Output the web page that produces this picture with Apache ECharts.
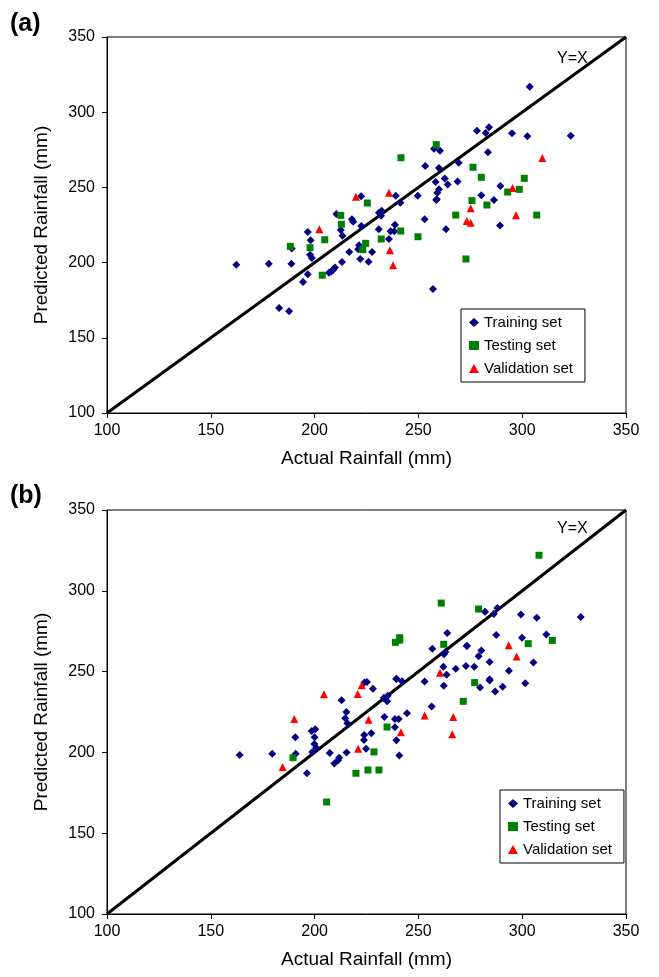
<!DOCTYPE html>
<html>
<head>
<meta charset="utf-8">
<script src="https://cdn.jsdelivr.net/npm/echarts@6/dist/echarts.min.js"></script>
<style>
  html, body { margin: 0; padding: 0; background: #fff; }
  #main { width: 659px; height: 977px; }
</style>
</head>
<body>
<div id="main"></div>
<script>
// axis ticks shared by both panels
var axisTicks = [100, 150, 200, 250, 300, 350];
var seriesNames = ['Training set', 'Testing set', 'Validation set'];

// panel (a) — [actual, predicted]
var trainA = [
  [257.5,275.7],[260.4,274.4],[253.3,264.2],[259.9,262.9],[269.4,266.4],[262.7,256],[258.3,253.6],
  [268.9,254],[264.1,252],[259.9,248.7],[259.1,246.5],[249.7,244.5],[239.1,244.5],[222.4,244.1],
  [258.8,242.1],[258.6,241.6],[303.6,317],[278.2,287.7],[284,290],[282.4,286.2],[295.1,286],
  [302.5,284],[323.4,284.4],[283.5,273.3],[289.5,250.9],[280.3,244.7],[286.4,241.6],
  [210.5,232.3],[212.6,221.7],[213.4,217.9],[196.7,220.3],[198.1,214.8],[189,209.4],[197.8,205.3],
  [198.7,203.1],[216.7,207],[162.3,198.6],[177.9,199.3],[188.8,199.3],[213.2,200.4],[209.8,196.8],
  [209,195.2],[208,194.1],[206.9,193.2],[196.7,192.3],[194.4,187.1],[182.9,169.8],[187.7,167.6],
  [218,228.8],[218.6,227.2],[232.3,234.5],[231,233.2],[232,231.2],[241.3,239.8],[253,228.8],
  [222.5,224.3],[238.7,225.2],[230.9,222.1],[236.6,220.8],[238.4,220.8],[235.8,215.7],[263.3,222.1],
  [221.4,211.5],[221,208.8],[227.7,207],[222,202.4],[226,200.6],[257,182.4],[289.3,224.7]
];
var testA = [
  [258.6,278.4],[241.6,269.7],[276.3,263.4],[280.3,256.7],[301,256],[298.6,248.7],[293,246.9],
  [275.8,241.2],[212.6,231.4],[212.9,225.5],[204.9,215.2],[188.3,210.8],[197.8,209.9],[203.7,191.6],
  [225.4,239.6],[241.5,221],[232.1,215.7],[249.8,217.2],[268,231.6],[224.6,212.8],[223.2,208.6],
  [272.9,202.4],[283,238.3],[307,231.6]
];
var validA = [
  [235.8,246.5],[219.9,243.8],[309.7,269.5],[295.4,249.6],[202.3,222.1],[273.3,227.6],
  [236.3,208.2],[237.8,198.2],[275.2,236.1],[297,231.4],[275.2,226.5]
];

// panel (b)
var trainB = [
  [263.9,273.9],[256.7,264.2],[263,262.1],[262.3,260.8],[273.3,266],[262,253],[263.6,248.1],
  [268,251.8],[272.9,253.5],[239.4,245.6],[282.1,287],[286.3,285.6],[288,289.3],[299.4,285.4],
  [307,283.4],[328.2,283.8],[287.5,272.6],[299.9,270.9],[311.6,273],[273.4,265.9],[280.3,263],
  [279,259.5],[276.9,253],[284.3,255.9],[305.4,255.6],[293.6,250.6],[284.3,245.2],
  [213,232.2],[215.3,225],[214.8,221.1],[215.8,218],[198.6,213.2],[200.3,214.4],[190.7,209.3],
  [200,209.3],[199.9,205.2],[200.8,202.9],[198.9,200.2],[190.9,199.2],[163.9,198.4],[179.6,199.2],
  [207.3,199.6],[215.4,200],[211.8,196.7],[211.3,195.2],[209.5,193.2],[196.3,187.1],
  [224,243.2],[225.2,243.6],[228.1,239.4],[239.4,245.4],[242.1,244],[253,243.8],[262.2,241.3],
  [233.3,233.8],[235.2,235],[234.9,231.7],[256.4,228.4],[233.6,221.9],[244.5,224.3],[238.7,220.6],
  [240.5,220.6],[238.7,215.5],[223.9,210.8],[223.8,207.7],[227.3,211.8],[239.4,207.5],[224.8,202.2],
  [240.8,198.1],[279.7,240.2],[284.3,244.5],[287,237.7],[290.6,240.6],[301.5,242.8]
];
var testB = [
  [261,292.4],[238.9,268.1],[241,271],[241,269.5],[262.2,266.9],[308.1,322],[279,288.7],
  [314.5,269.3],[302.9,267.3],[189.6,196.7],[205.8,169.3],[271.6,231.6],[234.9,215.7],[228.6,200.3],
  [219.9,187.1],[225.7,189.1],[231,189.1],[277.1,243.2]
];
var validB = [
  [260.4,249.3],[293.5,266.3],[297.3,259.3],[204.5,236],[190.2,220.6],[184.6,190.9],[222.7,241.5],
  [220.8,236.1],[226,220.2],[253,222.9],[266.8,221.9],[241.6,212.4],[266.3,211.2],[221,202.2]
];

var FONT = 'Liberation Sans, Arial, sans-serif';
var lo = axisTicks[0], hi = axisTicks[axisTicks.length - 1];
var step = axisTicks[1] - axisTicks[0];

function makeAxis(idx, name, isX) {
  return {
    type: 'value', gridIndex: idx, min: lo, max: hi, interval: step,
    name: name, nameLocation: 'middle', nameGap: isX ? 36 : 56,
    nameTextStyle: { fontSize: 19, color: '#000', fontFamily: FONT },
    axisLine: { show: true, onZero: false, lineStyle: { color: '#000', width: 1 } },
    axisTick: { show: true, inside: false, length: 5, lineStyle: { color: '#000' } },
    axisLabel: { fontSize: 16, color: '#000', fontFamily: FONT, margin: isX ? 10 : 12 },
    splitLine: { show: false }
  };
}

function panelSeries(idx, tr, te, va) {
  return [
    { name: seriesNames[0], type: 'scatter', xAxisIndex: idx, yAxisIndex: idx, data: tr,
      symbol: 'diamond', symbolSize: 8, itemStyle: { color: '#000080', opacity: 1 } },
    { name: seriesNames[1], type: 'scatter', xAxisIndex: idx, yAxisIndex: idx, data: te,
      symbol: 'rect', symbolSize: 7, itemStyle: { color: '#008000', opacity: 1 } },
    { name: seriesNames[2], type: 'scatter', xAxisIndex: idx, yAxisIndex: idx, data: va,
      symbol: 'triangle', symbolSize: 8, itemStyle: { color: '#ff0000', opacity: 1 } },
    { name: 'Y=X', type: 'line', xAxisIndex: idx, yAxisIndex: idx, data: [[lo, lo], [hi, hi]],
      symbol: 'none', lineStyle: { color: '#000', width: 3 }, silent: true, z: 1 }
  ];
}

function makeLegend(left, top) {
  return {
    data: seriesNames, orient: 'vertical', left: left, top: top,
    backgroundColor: '#fff', borderColor: '#000', borderWidth: 1,
    padding: [6, 12, 6, 8], itemGap: 8, itemWidth: 10, itemHeight: 9,
    textStyle: { fontSize: 15, color: '#000', fontFamily: FONT }
  };
}

var chart = echarts.init(document.getElementById('main'));
chart.setOption({
  animation: false,
  backgroundColor: '#fff',
  grid: [
    { left: 107, top: 37, width: 519, height: 376, show: true, borderColor: '#000', borderWidth: 1 },
    { left: 107, top: 510, width: 519, height: 404, show: true, borderColor: '#000', borderWidth: 1 }
  ],
  xAxis: [makeAxis(0, 'Actual Rainfall (mm)', true), makeAxis(1, 'Actual Rainfall (mm)', true)],
  yAxis: [makeAxis(0, 'Predicted Rainfall (mm)', false), makeAxis(1, 'Predicted Rainfall (mm)', false)],
  legend: [makeLegend(461, 309), makeLegend(500, 790)],
  series: panelSeries(0, trainA, testA, validA).concat(panelSeries(1, trainB, testB, validB)),
  graphic: [
    { type: 'text', left: 10, top: 12, style: { text: '(a)', font: 'bold 25px ' + FONT, fill: '#000' } },
    { type: 'text', left: 10, top: 484, style: { text: '(b)', font: 'bold 25px ' + FONT, fill: '#000' } },
    { type: 'text', left: 557, top: 51, style: { text: 'Y=X', font: '16px ' + FONT, fill: '#000' } },
    { type: 'text', left: 557, top: 521, style: { text: 'Y=X', font: '16px ' + FONT, fill: '#000' } }
  ]
});
</script>
</body>
</html>
